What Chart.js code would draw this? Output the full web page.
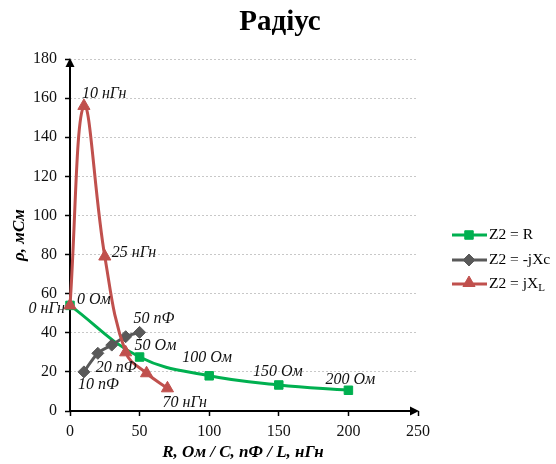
<!DOCTYPE html>
<html>
<head>
<meta charset="utf-8">
<script src="https://cdn.jsdelivr.net/npm/chart.js@4.4.0/dist/chart.umd.min.js"></script>
<style>
  html, body { margin: 0; padding: 0; background: #fff; }
  #wrap { width: 556px; height: 464px; }
</style>
</head>
<body>
<div id="wrap"><canvas id="chart"></canvas></div>
<script>
// Z2 = R
const rX = [0, 50, 100, 150, 200];
const rY = [54, 27.6, 18, 13.3, 10.6];
const rLabels = ["0 Ом", "50 Ом", "100 Ом", "150 Ом", "200 Ом"];
// Z2 = -jXc
const cX = [10, 20, 30, 40, 50];
const cY = [20, 29.5, 33.7, 38, 40.2];
const cLabels = ["10 пФ", "20 пФ", "", "", "50 пФ"];
// Z2 = jXL
const lX = [0, 10, 25, 40, 55, 70];
const lY = [54, 156, 79, 30, 19.3, 11.6];
const lLabels = ["0 нГн", "10 нГн", "25 нГн", "", "", "70 нГн"];

const xTicks = [0, 50, 100, 150, 200, 250];
const yTicks = [0, 20, 40, 60, 80, 100, 120, 140, 160, 180];

const serif = '"Liberation Serif", "Times New Roman", serif';
const GREEN = "#00b050", GRAY = "#595959", RED = "#c0504d";

// label offsets from the point, [dx, dy, align]
const labelOffsets = [
  [[7, -6, "left"], [-5, -11, "left"], [-2, -18, "center"], [-1, -13, "center"], [2, -10, "center"]],
  [[-6, 13, "left"], [-2, 14, "left"], null, null, [-6, -14, "left"]],
  [[-5, 3, "right"], [-2, -12, "left"], [7, -4, "left"], null, null, [-5, 14, "left"]]
];
const allLabels = [rLabels, cLabels, lLabels];

function pts(xs, ys) {
  return xs.map((x, i) => ({ x: x, y: ys[i] }));
}

const decor = {
  id: "decor",
  beforeDatasetsDraw(chart) {
    const ctx = chart.ctx, a = chart.chartArea;
    ctx.save();
    ctx.strokeStyle = "#000";
    ctx.fillStyle = "#000";
    ctx.lineWidth = 2;
    // y axis with arrow
    ctx.beginPath();
    ctx.moveTo(a.left, a.bottom + 1);
    ctx.lineTo(a.left, a.top + 6);
    ctx.stroke();
    ctx.beginPath();
    ctx.moveTo(a.left, a.top - 1);
    ctx.lineTo(a.left - 4.5, a.top + 8);
    ctx.lineTo(a.left + 4.5, a.top + 8);
    ctx.closePath();
    ctx.fill();
    // x axis with arrow
    ctx.beginPath();
    ctx.moveTo(a.left - 1, a.bottom);
    ctx.lineTo(a.right - 6, a.bottom);
    ctx.stroke();
    ctx.beginPath();
    ctx.moveTo(a.right + 1, a.bottom);
    ctx.lineTo(a.right - 8, a.bottom - 4.5);
    ctx.lineTo(a.right - 8, a.bottom + 4.5);
    ctx.closePath();
    ctx.fill();
    ctx.restore();
  },
  afterDatasetsDraw(chart) {
    const ctx = chart.ctx;
    ctx.save();
    ctx.font = "italic 16px " + serif;
    ctx.fillStyle = "#111";
    ctx.textBaseline = "middle";
    chart.data.datasets.forEach((ds, di) => {
      const meta = chart.getDatasetMeta(di);
      meta.data.forEach((el, i) => {
        const txt = allLabels[di][i];
        const off = labelOffsets[di][i];
        if (!txt || !off) return;
        ctx.textAlign = off[2];
        ctx.fillText(txt, el.x + off[0], el.y + off[1]);
      });
    });
    ctx.restore();
  },
  afterDraw(chart) {
    const ctx = chart.ctx, a = chart.chartArea;
    ctx.save();
    ctx.fillStyle = "#000";
    // title
    ctx.font = "bold 29px " + serif;
    ctx.textAlign = "center";
    ctx.textBaseline = "middle";
    ctx.fillText("Радіус", 280, 23);
    // axis titles
    ctx.font = "bold italic 17px " + serif;
    ctx.fillText("R, Ом / C, пФ / L, нГн", (a.left + a.right) / 2 - 1, 453);
    ctx.save();
    ctx.translate(20, (a.top + a.bottom) / 2);
    ctx.rotate(-Math.PI / 2);
    ctx.fillText("ρ, мСм", 0, 0);
    ctx.restore();
    // legend
    const rows = [
      { c: GREEN, s: "rect", r: 6, t: "Z2 = R", y: 235 },
      { c: GRAY, s: "rectRot", r: 6, t: "Z2 = -jXc", y: 260 },
      { c: RED, s: "triangle", r: 7, t: "Z2 = jX", sub: "L", y: 284 }
    ];
    ctx.textAlign = "left";
    rows.forEach(row => {
      ctx.strokeStyle = row.c;
      ctx.fillStyle = row.c;
      ctx.lineWidth = 3;
      ctx.beginPath();
      ctx.moveTo(452, row.y);
      ctx.lineTo(487, row.y);
      ctx.stroke();
      ctx.lineWidth = 1;
      Chart.helpers.drawPoint(ctx, { pointStyle: row.s, radius: row.r, borderWidth: 1, rotation: 0 }, 469, row.s === "triangle" ? row.y - 1 : row.y);
      ctx.fillStyle = "#000";
      ctx.font = "15.5px " + serif;
      ctx.fillText(row.t, 489, row.y);
      if (row.sub) {
        const w = ctx.measureText(row.t).width;
        ctx.font = "11px " + serif;
        ctx.fillText(row.sub, 489 + w, row.y + 4);
      }
    });
    ctx.restore();
  }
};

const ds = (label, data, color, style, radius, order) => ({
  label: label,
  data: data,
  showLine: true,
  borderColor: color,
  backgroundColor: color,
  borderWidth: 3,
  tension: 0.4,
  pointStyle: style,
  pointRadius: radius,
  pointHoverRadius: radius,
  pointBorderWidth: 1,
  clip: false,
  order: order
});

new Chart(document.getElementById("chart"), {
  type: "scatter",
  data: {
    datasets: [
      ds("Z2 = R", pts(rX, rY), GREEN, "rect", 6, 2),
      ds("Z2 = -jXc", pts(cX, cY), GRAY, "rectRot", 6, 1),
      ds("Z2 = jXL", pts(lX, lY), RED, "triangle", 7, 0)
    ]
  },
  options: {
    responsive: true,
    maintainAspectRatio: false,
    animation: false,
    layout: { padding: { top: 59, right: 138, left: 0, bottom: 0 } },
    plugins: { legend: { display: false }, tooltip: { enabled: false } },
    scales: {
      x: {
        type: "linear",
        min: 0,
        max: 250,
        afterBuildTicks: s => { s.ticks = xTicks.map(v => ({ value: v })); },
        afterFit: s => { s.height = 53; },
        grid: { drawOnChartArea: false, tickLength: 5, tickColor: "#000", tickWidth: 1.5 },
        border: { display: false },
        ticks: { color: "#111", font: { family: serif, size: 16 }, padding: 6, maxRotation: 0 }
      },
      y: {
        min: 0,
        max: 180,
        afterBuildTicks: s => { s.ticks = yTicks.map(v => ({ value: v })); },
        afterFit: s => { s.width = 70; },
        grid: { color: "#c8c8c8", lineWidth: 1, tickLength: 5, tickColor: "#000", tickWidth: 1.5 },
        border: { display: false, dash: [2, 2] },
        ticks: { color: "#111", font: { family: serif, size: 16 }, padding: 8 }
      }
    }
  },
  plugins: [decor]
});
</script>
</body>
</html>
